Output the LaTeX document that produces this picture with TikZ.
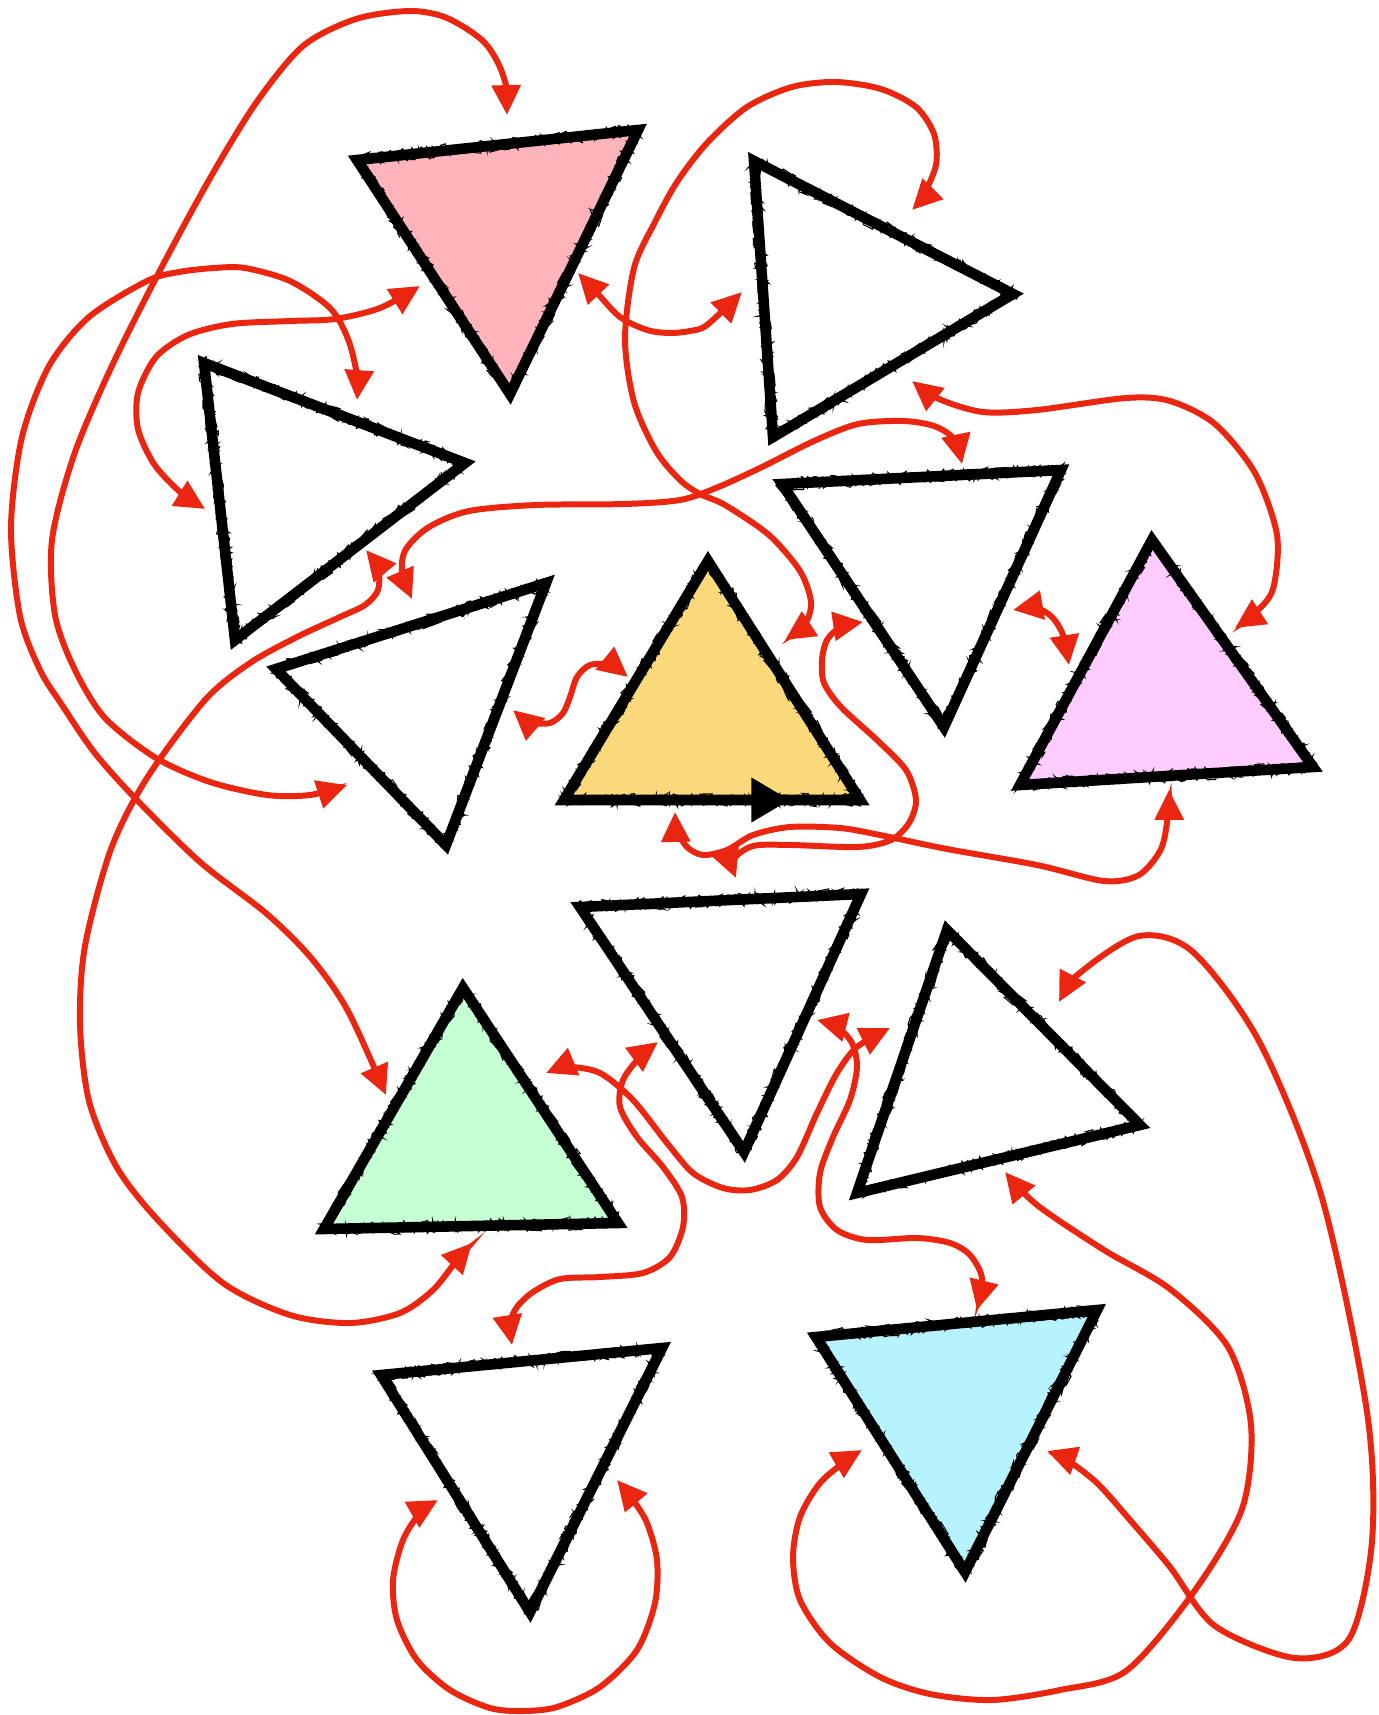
\documentclass[tikz,border=0pt]{standalone}
\usepackage{tikz}
\usetikzlibrary{arrows.meta,decorations.pathmorphing}
\definecolor{PalePink}{RGB}{255,179,186}
\definecolor{PaleYellow}{RGB}{250,217,122}
\definecolor{PaleMagenta}{RGB}{255,204,255}
\definecolor{PaleGreen}{RGB}{198,255,212}
\definecolor{PaleBlue}{RGB}{182,243,255}
\definecolor{LinkRed}{RGB}{234,38,17}

\begin{document}
\begin{tikzpicture}[
      x=0.01cm,y=-0.01cm,
      tribox/.style={draw=black,line width=3pt,line join=miter,
        postaction={draw=black,line width=.3pt,decorate,decoration={random steps,segment length=.6pt,amplitude=1.9pt}},
        postaction={draw=black,line width=.4pt,decorate,decoration={random steps,segment length=1pt,amplitude=1.7pt}}},
      arr/.style={{Triangle[length=8.5pt,width=8pt]}-{Triangle[length=8.5pt,width=8pt]},line width=1.7pt,LinkRed}
    ]
    \pgfmathsetseed{7}
    \useasboundingbox (0,0) rectangle (1379,1715);
    % triangles
    \foreach \ax/\ay/\bx/\by/\cx/\cy/\f in {
        357/160/638/130/510/394/PalePink, 754/161/1013/294/773/437/none,
        204/363/465/463/235/640/none, 276/669/546/583/446/845/none,
        564/800/708/561/860/800/PaleYellow, 782/484/1061/470/944/727/none,
        1020/785/1152/540/1313/767/PaleMagenta, 580/907/861/894/744/1152/none,
        463/988/324/1229/618/1223/PaleGreen, 857/1193/947/930/1140/1125/none,
        381/1375/662/1348/530/1612/none, 816/1337/1097/1310/965/1572/PaleBlue}{
      \draw[tribox,fill=\f] (\ax,\ay) -- (\bx,\by) -- (\cx,\cy) -- cycle;
    }
    \coordinate (t5-a) at (564,800);
    \coordinate (t5-m) at (790,800);
    \draw[line width=3pt,-{Triangle[length=11pt,width=12pt]}] (t5-a) -- (t5-m);
    % link ends
    \foreach \n/\x/\y in {t1-n/507/115, t1-w/420/286, t1-e/578/273, t2-w/742/292, t2-n/912/210, t2-s/912/381,
        t3-n/357/400, t3-w/205/509, t3-s/366/550, t4-w/347/785, t4-n/412/599, t4-e/513/710,
        t5-w/628/677, t5-e/785/640, t5-s/675/812, t6-n/962/464, t6-w/863/622, t6-e/1013/610,
        t7-w/1069/665, t7-e/1235/628, t7-s/1169/790, t8-n/736/878, t8-e/817/1020, t8-w/658/1042,
        t9-w/386/1095, t9-e/546/1073, t9-s/472/1243, t10-w/890/1028, t10-e/1059/1002, t10-s/1005/1172,
        t11-n/512/1345, t11-w/438/1500, t11-e/617/1480, t12-n/977/1310, t12-w/862/1450, t12-e/1047/1451}{
      \coordinate (\n) at (\x,\y);
    }
    % links
    \draw[arr] plot[smooth] coordinates {(t1-n) (503,75) (484,42) (447,18) (410,11) (356,19) (303,46) (256,103) (209,180)
      (156,278) (110,370) (74,455) (52,540) (55,615) (75,670) (105,718) (156,758) (210,782) (267,795) (310,795) (t4-w)};
    \draw[arr] plot[smooth] coordinates {(t3-n) (357,375) (348,339) (330,308) (290,281) (245,268) (214,268) (179,272) (147,281)
      (89,317) (49,366) (22,437) (11,527) (20,616) (40,670) (62,705) (94,752) (134,797) (200,862) (267,914) (312,959) (348,1011) (t9-w)};
    \draw[arr] plot[smooth] coordinates {(t3-w) (179,491) (154,464) (138,429) (138,393) (156,357) (188,335) (232,324) (290,321)
      (335,319) (380,308) (t1-w)};
    \draw[arr] plot[smooth] coordinates {(t1-e) (597,293) (620,317) (647,330) (670,333) (690,331) (707,325) (t2-w)};
    \draw[arr] plot[smooth] coordinates {(t2-n) (923,196) (936,165) (934,134) (916,107) (881,89) (836,82) (792,87) (747,107)
      (707,143) (677,182) (655,222) (634,268) (625,339) (634,402) (656,451) (680,480) (700,494) (725,505) (769,535) (800,571)
      (811,602) (805,624) (t5-e)};
    \draw[arr] plot[smooth] coordinates {(t2-s) (939,399) (983,412) (1037,410) (1126,398) (1170,401) (1215,424) (1255,473)
      (1277,535) (1273,589) (1255,613) (t7-e)};
    \draw[arr] plot[smooth] coordinates {(t6-n) (954,439) (934,426) (903,421) (858,424) (814,441) (760,468) (716,488) (680,500)
      (625,504) (536,505) (469,511) (429,527) (406,549) (402,571) (t4-n)};
    \draw[arr] plot[smooth] coordinates {(t3-s) (378,568) (378,590) (365,605) (340,617) (297,637) (250,663) (205,700) (147,778)
      (111,849) (85,946) (80,1024) (89,1101) (116,1166) (156,1218) (223,1283) (290,1315) (350,1323) (400,1313) (433,1290)
      (457,1260) (t9-s)};
    \draw[arr] plot[smooth] coordinates {(t4-e) (530,722) (550,723) (563,713) (570,697) (577,677) (590,665) (610,665) (t5-w)};
    \draw[arr] plot[smooth] coordinates {(t6-w) (841,627) (827,640) (822,660) (824,683) (841,707) (877,740) (906,770) (916,800)
      (909,823) (891,840) (858,847) (791,845) (753,846) (733,860) (t8-n)};
    \draw[arr] plot[smooth] coordinates {(t5-s) (677,830) (687,847) (703,855) (727,850) (753,835) (790,827) (840,828) (880,835)
      (947,849) (1037,865) (1104,881) (1139,875) (1161,849) (1168,815) (t7-s)};
    \draw[arr] plot[smooth] coordinates {(t6-e) (1036,608) (1052,617) (1063,635) (t7-w)};
    \draw[arr] plot[smooth] coordinates {(t9-e) (568,1067) (600,1073) (633,1100) (667,1143) (693,1173) (723,1188) (750,1190)
      (777,1180) (797,1157) (817,1113) (837,1073) (857,1047) (t10-w)};
    \draw[arr] plot[smooth] coordinates {(t8-e) (837,1027) (852,1043) (857,1067) (850,1100) (833,1137) (820,1173) (820,1207)
      (837,1230) (867,1240) (917,1238) (950,1243) (970,1255) (982,1278) (t12-n)};
    \draw[arr] plot[smooth] coordinates {(t8-w) (640,1057) (623,1080) (620,1107) (637,1137) (663,1167) (682,1197) (683,1227)
      (670,1257) (643,1273) (600,1277) (560,1279) (533,1292) (517,1307) (510,1323) (t11-n)};
    \draw[arr] plot[smooth] coordinates {(t11-w) (420,1513) (403,1540) (393,1580) (397,1620) (417,1660) (450,1690) (490,1708)
      (523,1711) (557,1707) (600,1687) (637,1650) (655,1603) (657,1560) (647,1523) (633,1500) (t11-e)};
    \draw[arr] plot[smooth] coordinates {(t12-w) (847,1460) (820,1483) (800,1517) (793,1557) (800,1600) (830,1643) (880,1677)
      (930,1694) (992,1700) (1060,1690) (1126,1671) (1193,1593) (1242,1509) (1251,1425) (1228,1347) (1170,1289) (1104,1250)
      (1037,1205) (t10-s)};
    \draw[arr] plot[smooth] coordinates {(t10-e) (1081,972) (1139,936) (1193,952) (1260,1043) (1322,1198) (1367,1412)
      (1372,1541) (1349,1639) (1295,1658) (1215,1626) (1170,1567) (1130,1520) (1097,1483) (1067,1460) (t12-e)};
  \end{tikzpicture}
\end{document}
